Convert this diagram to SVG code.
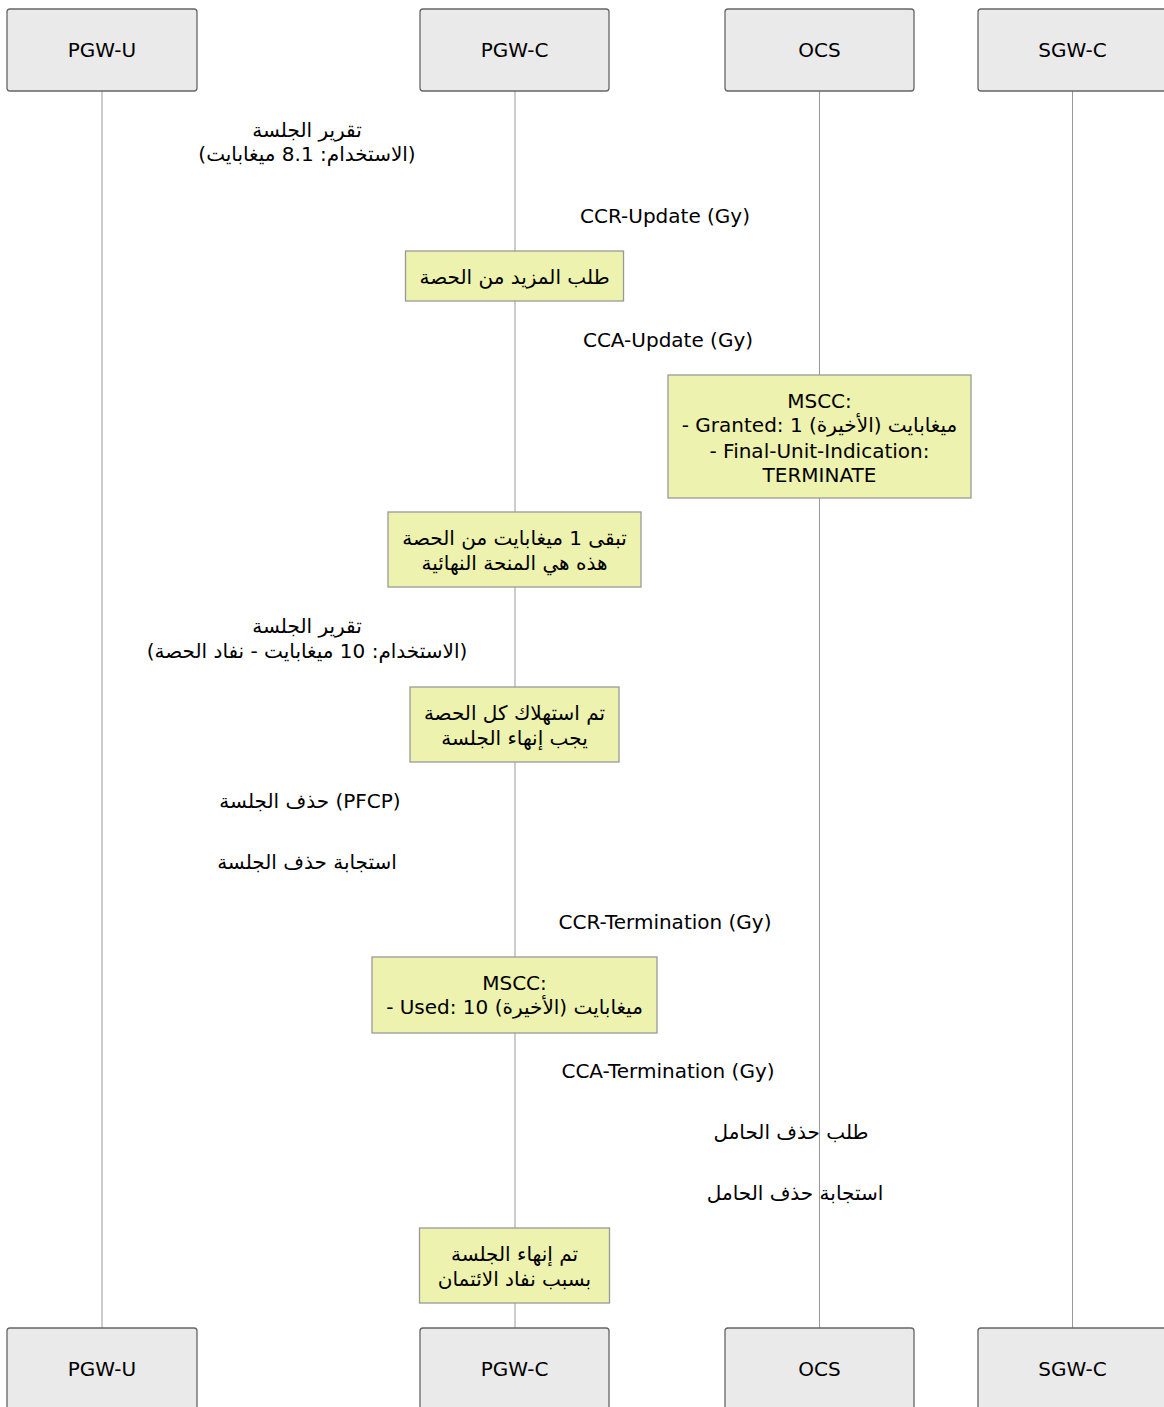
<svg xmlns="http://www.w3.org/2000/svg" width="1164" height="1407" viewBox="0 0 1164 1407">
<style>
text{font-family:"DejaVu Sans","Noto Sans",sans-serif;font-size:20px;fill:#000;text-anchor:middle}
.actor{fill:#eaeaea;stroke:#666;stroke-width:1.3}
.note{fill:#edf2ae;stroke:#999;stroke-width:1.3}
.life{stroke:#999;stroke-width:1}
</style>
<rect width="1164" height="1407" fill="#fff"/>
<g id="lifelines">
<line class="life" x1="102" y1="91" x2="102" y2="1328"/>
<line class="life" x1="515" y1="91" x2="515" y2="1328"/>
<line class="life" x1="819.5" y1="91" x2="819.5" y2="1328"/>
<line class="life" x1="1072.5" y1="91" x2="1072.5" y2="1328"/>
</g>
<g id="actor-pgwu-top"><rect class="actor" x="7" y="9" width="190" height="82" rx="3"/><text x="102" y="57">PGW-U</text></g>
<g id="actor-pgwc-top"><rect class="actor" x="420" y="9" width="189" height="82" rx="3"/><text x="514.5" y="57">PGW-C</text></g>
<g id="actor-ocs-top"><rect class="actor" x="725" y="9" width="189" height="82" rx="3"/><text x="819.5" y="57">OCS</text></g>
<g id="actor-sgwc-top"><rect class="actor" x="978" y="9" width="190" height="82" rx="3"/><text x="1072.5" y="57">SGW-C</text></g>
<g id="actor-pgwu-bottom"><rect class="actor" x="7" y="1328" width="190" height="82" rx="3"/><text x="102" y="1376">PGW-U</text></g>
<g id="actor-pgwc-bottom"><rect class="actor" x="420" y="1328" width="189" height="82" rx="3"/><text x="514.5" y="1376">PGW-C</text></g>
<g id="actor-ocs-bottom"><rect class="actor" x="725" y="1328" width="189" height="82" rx="3"/><text x="819.5" y="1376">OCS</text></g>
<g id="actor-sgwc-bottom"><rect class="actor" x="978" y="1328" width="190" height="82" rx="3"/><text x="1072.5" y="1376">SGW-C</text></g>
<g id="messages">
<text x="307" y="137">تقرير الجلسة</text>
<text x="307" y="161">(الاستخدام: 8.1 ميغابايت)</text>
<text x="665" y="223">CCR-Update (Gy)</text>
<text x="668" y="347">CCA-Update (Gy)</text>
<text x="307" y="633">تقرير الجلسة</text>
<text x="307" y="658">(الاستخدام: 10 ميغابايت - نفاد الحصة)</text>
<text x="310" y="808">حذف الجلسة (PFCP)</text>
<text x="307" y="869">استجابة حذف الجلسة</text>
<text x="665" y="929">CCR-Termination (Gy)</text>
<text x="668" y="1078">CCA-Termination (Gy)</text>
<text x="791" y="1139">طلب حذف الحامل</text>
<text x="795" y="1200">استجابة حذف الحامل</text>
</g>
<g id="note1"><rect class="note" x="405.5" y="251" width="218" height="50"/><text x="514.5" y="284">طلب المزيد من الحصة</text></g>
<g id="note2"><rect class="note" x="668" y="375" width="303" height="123"/>
<text x="819.5" y="408">MSCC:</text>
<text x="819.5" y="432">- Granted: 1 ميغابايت (الأخيرة)</text>
<text x="819.5" y="458">- Final-Unit-Indication:</text>
<text x="819.5" y="482">TERMINATE</text></g>
<g id="note3"><rect class="note" x="388" y="512" width="253" height="75"/>
<text x="514.5" y="545">تبقى 1 ميغابايت من الحصة</text>
<text x="514.5" y="570">هذه هي المنحة النهائية</text></g>
<g id="note4"><rect class="note" x="410" y="687" width="209" height="75"/>
<text x="514.5" y="720">تم استهلاك كل الحصة</text>
<text x="514.5" y="745">يجب إنهاء الجلسة</text></g>
<g id="note5"><rect class="note" x="372" y="957" width="285" height="76"/>
<text x="514.5" y="990">MSCC:</text>
<text x="514.5" y="1014">- Used: 10 ميغابايت (الأخيرة)</text></g>
<g id="note6"><rect class="note" x="419.5" y="1228" width="190" height="75"/>
<text x="514.5" y="1261">تم إنهاء الجلسة</text>
<text x="514.5" y="1286">بسبب نفاد الائتمان</text></g>
</svg>
